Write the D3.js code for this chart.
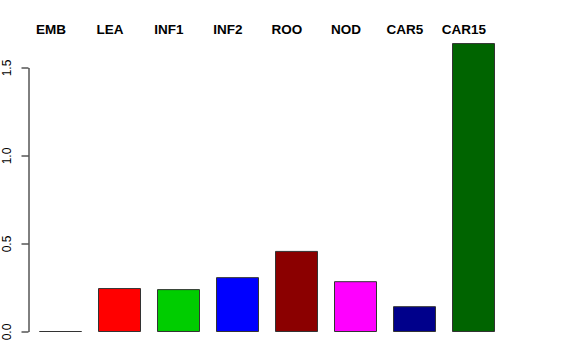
<!DOCTYPE html>
<html>
<head>
<meta charset="utf-8" />
<style>
	body { margin: 0; background: #fff; }
	.lab { font-family: 'Liberation Sans', Arial, sans-serif; font-size: 13.5px; font-weight: bold; fill: #000; }
	.yaxis text { font-family: 'Liberation Sans', Arial, sans-serif; font-size: 12px; fill: #000; }
	.yaxis path, .yaxis line { stroke: #000; }
</style>
</head>
<body>
<div id="chart"></div>
<script src="https://d3js.org/d3.v7.min.js"></script>
<script>

// data
var tissues = ['EMB', 'LEA', 'INF1', 'INF2', 'ROO', 'NOD', 'CAR5', 'CAR15'];
var values = [0.0, 0.244, 0.238, 0.306, 0.455, 0.283, 0.141, 1.636];
var barColors = ['#ffffff', '#ff0000', '#00cd00', '#0000ff', '#8b0000', '#ff00ff', '#00008b', '#006400'];
var yTicks = [0, 0.5, 1.0, 1.5];

var width = 576, height = 360;

var svg = d3.select('#chart').append('svg')
	.attr('width', width)
	.attr('height', height);

// scales
var x = d3.scaleBand()
	.domain(tissues)
	.range([30.5, 502.5])
	.paddingInner(17 / 59)
	.paddingOuter(17 / 59 / 2);

var y = d3.scaleLinear()
	.domain([0, 1.5])
	.range([331, 67]);

// bars as closed paths so a zero-height bar still shows its outline
svg.selectAll('.bar')
	.data(tissues)
	.enter()
	.append('path')
	.attr('class', 'bar')
	.attr('d', function (d, i) {
		var x0 = x(d) + 0.5, y0 = y(0) + 0.5, y1 = y(values[i]) + 0.5;
		var p = d3.path();
		p.moveTo(x0, y0);
		p.lineTo(x0, y1);
		p.lineTo(x0 + x.bandwidth(), y1);
		p.lineTo(x0 + x.bandwidth(), y0);
		p.closePath();
		return p.toString();
	})
	.attr('fill', function (d, i) { return barColors[i]; })
	.attr('stroke', '#333')
	.attr('stroke-width', 1);

// labels above bars (sit a little left of bar centres, as in the original)
svg.selectAll('.lab')
	.data(tissues)
	.enter()
	.append('text')
	.attr('class', 'lab')
	.attr('x', function (d) { return x(d) + x.bandwidth() / 2 - 9; })
	.attr('y', 34)
	.attr('text-anchor', 'middle')
	.text(function (d) { return d; });

// y axis
var yAxis = svg.append('g')
	.attr('class', 'yaxis')
	.attr('transform', 'translate(28.5,0.5)')
	.call(d3.axisLeft(y)
		.tickValues(yTicks)
		.tickSize(7)
		.tickSizeOuter(0)
		.tickFormat(d3.format('.1f')));

yAxis.selectAll('text')
	.attr('transform', 'rotate(-90)')
	.attr('x', 0)
	.attr('dx', 0)
	.attr('y', -18)
	.attr('dy', 0)
	.style('text-anchor', 'middle');

</script>
</body>
</html>
